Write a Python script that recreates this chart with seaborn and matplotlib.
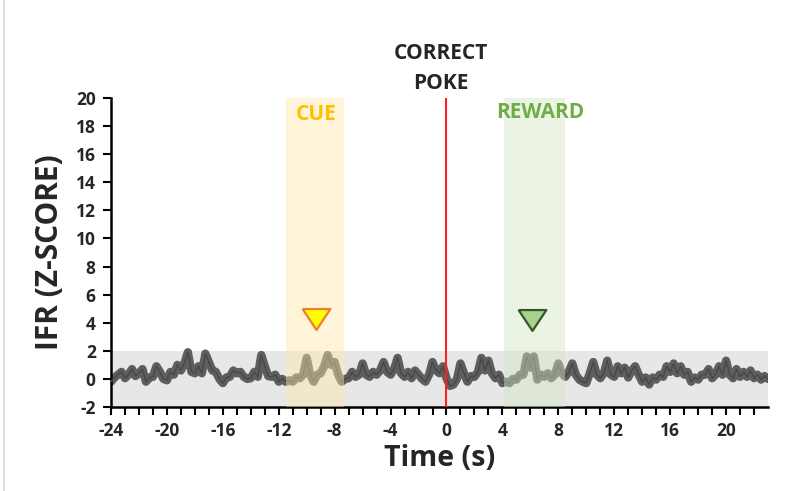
import numpy as np
import pandas as pd
import matplotlib
matplotlib.use("Agg")
import matplotlib.pyplot as plt
import seaborn as sns
from matplotlib.lines import Line2D

# ---- data (0.25 s steps, rows = 1 s) ----
ifr_z = [
    -0.2, 0.1, 0.3, 0.5,      # -24
    0.05, 0.3, 0.7, 0.2,      # -23
    0.4, 0.7, -0.2, 0.1,      # -22
    0.15, 0.9, 0.5, 0.0,      # -21
    -0.1, 0.5, 0.3, 1.0,      # -20
    0.6, 1.1, 1.9, 0.5,       # -19
    0.4, 0.9, 0.4, 1.8,       # -18
    1.2, 0.6, 0.5, 0.0,       # -17
    -0.3, 0.1, 0.15, 0.6,     # -16
    0.4, 0.5, 0.15, 0.0,      # -15
    0.05, 0.5, 0.15, 1.7,     # -14
    0.9, 0.2, 0.15, 0.3,      # -13
    -0.2, 0.0, -0.2, -0.1,    # -12
    -0.2, 0.1, 0.05, 0.3,     # -11
    1.5, 0.3, -0.2, 0.3,      # -10
    0.4, 0.9, 1.7, 1.0,       # -9
    1.2, 0.3, -0.2, 0.0,      # -8
    0.05, 0.5, 0.15, 0.3,     # -7
    1.1, 0.3, 0.15, 0.5,      # -6
    0.3, 0.6, 1.2, 0.5,       # -5
    0.3, 0.7, 1.5, 0.4,       # -4
    0.15, 0.5, 0.05, 0.6,     # -3
    0.3, 0.0, -0.2, 0.3,      # -2
    1.2, 0.6, 0.4, 0.9,       # -1
    0.05, -0.5, -0.4, 0.0,    # 0
    1.1, 0.4, -0.2, 0.2,      # 1
    0.15, 0.5, 1.5, 0.6,      # 2
    1.3, 0.4, 0.05, 0.3,      # 3
    -0.3, -0.2, -0.3, 0.0,    # 4
    -0.05, 0.3, 0.3, 1.6,     # 5
    0.8, 1.6, -0.05, 0.3,     # 6
    0.15, 0.4, 0.05, 0.3,     # 7
    1.1, 0.4, 0.15, 0.5,      # 8
    1.1, 0.3, -0.05, -0.2,    # 9
    -0.3, 0.4, 1.2, 0.3,      # 10
    0.05, 0.4, 1.3, 0.3,      # 11
    0.15, 0.9, 0.4, 0.8,      # 12
    0.1, 0.6, 0.9, 0.3,       # 13
    -0.2, 0.1, -0.4, 0.1,     # 14
    -0.05, 0.3, 0.15, 0.9,    # 15
    0.5, 1.1, 0.4, 0.9,       # 16
    0.3, 0.5, -0.2, 0.1,      # 17
    -0.05, 0.3, 0.3, 0.7,     # 18
    0.05, 0.3, 0.9, 0.3,      # 19
    1.3, 0.3, 0.05, 0.7,      # 20
    0.15, 0.5, 0.15, 0.6,     # 21
    0.05, 0.3, -0.05, 0.2,    # 22
    0.0,                      # 23
]
time_s = [-24 + 0.25 * i for i in range(len(ifr_z))]
df = pd.DataFrame({"Time (s)": time_s, "IFR": ifr_z})

x_ticks = [-24, -20, -16, -12, -8, -4, 0, 4, 8, 12, 16, 20]
y_ticks = [-2, 0, 2, 4, 6, 8, 10, 12, 14, 16, 18, 20]
cue_window = (-11.5, -7.35)
reward_window = (4.1, 8.5)
baseline_band = (-2, 2)
cue_marker = (-9.3, 4.25)
reward_marker = (6.15, 4.2)

# ---- figure ----
sns.set_style("white")
plt.rcParams["font.family"] = ["Open Sans", "DejaVu Sans"]
plt.rcParams["axes.unicode_minus"] = False
fig = plt.figure(figsize=(7.88, 4.91), dpi=100)
ax = fig.add_axes([111 / 788, 1 - 407 / 491, (768 - 111) / 788, (407 - 98) / 491])

ax.axhspan(*baseline_band, color="#e7e7e7", zorder=0, lw=0)

sns.lineplot(data=df, x="Time (s)", y="IFR", ax=ax, color="#5e5e5e",
             lw=6, zorder=2)
sns.lineplot(data=df, x="Time (s)", y="IFR", ax=ax, color="#474747",
             lw=1.0, zorder=3)

ax.axvspan(*cue_window, color="#ffe7a8", alpha=0.45, lw=0, zorder=4)
ax.axvspan(*reward_window, color="#d3e6c4", alpha=0.45, lw=0, zorder=4)

ax.axvline(0, color="#ff2020", lw=1.5, zorder=5)

tri = [(-1.33, 1.0), (1.33, 1.0), (0.0, -1.0), (-1.33, 1.0)]
ax.plot([cue_marker[0]], [cue_marker[1]], marker=tri, ms=20, mfc="#ffff00",
        mec="#ed7d31", mew=1.6, zorder=6)
ax.plot([reward_marker[0]], [reward_marker[1]], marker=tri, ms=20, mfc="#a9d18e",
        mec="#375623", mew=1.6, zorder=6)

ax.text(-9.3, 18.8, "CUE", color="#ffc000", fontsize=15, fontweight="bold",
        ha="center", va="center", zorder=7)
ax.text(6.7, 19.0, "REWARD", color="#70ad47", fontsize=15, fontweight="bold",
        ha="center", va="center", zorder=7)
fig.text(441 / 788, 1 - 53.5 / 491, "CORRECT", ha="center", va="center",
         fontsize=15, fontweight="bold")
fig.text(441 / 788, 1 - 83.5 / 491, "POKE", ha="center", va="center",
         fontsize=15, fontweight="bold")

ax.set_xlim(-24, 23)
ax.set_ylim(-2, 20)
ax.set_xticks(x_ticks)
ax.set_xticks(np.arange(-24, 23, 1), minor=True)
ax.set_yticks(y_ticks)
ax.tick_params(axis="both", which="both", direction="out", length=6, width=1.5,
               color="black", labelsize=12.5)
ax.tick_params(axis="both", which="major", bottom=True, left=True, pad=5)
ax.tick_params(axis="x", which="minor", bottom=True)
for lab in ax.get_xticklabels() + ax.get_yticklabels():
    lab.set_fontweight("bold")

ax.set_xlabel("Time (s)", fontsize=20.5, fontweight="bold", labelpad=3)
ax.set_ylabel("IFR (Z-SCORE)", fontsize=21.5, fontweight="bold", labelpad=8)

sns.despine(ax=ax)
for side in ("left", "bottom"):
    ax.spines[side].set_linewidth(1.8)
    ax.spines[side].set_color("black")

fig.add_artist(Line2D([4 / 788, 4 / 788], [0, 1], color="#d9d9d9", lw=1.2))

fig.savefig("out.png", dpi=100)
